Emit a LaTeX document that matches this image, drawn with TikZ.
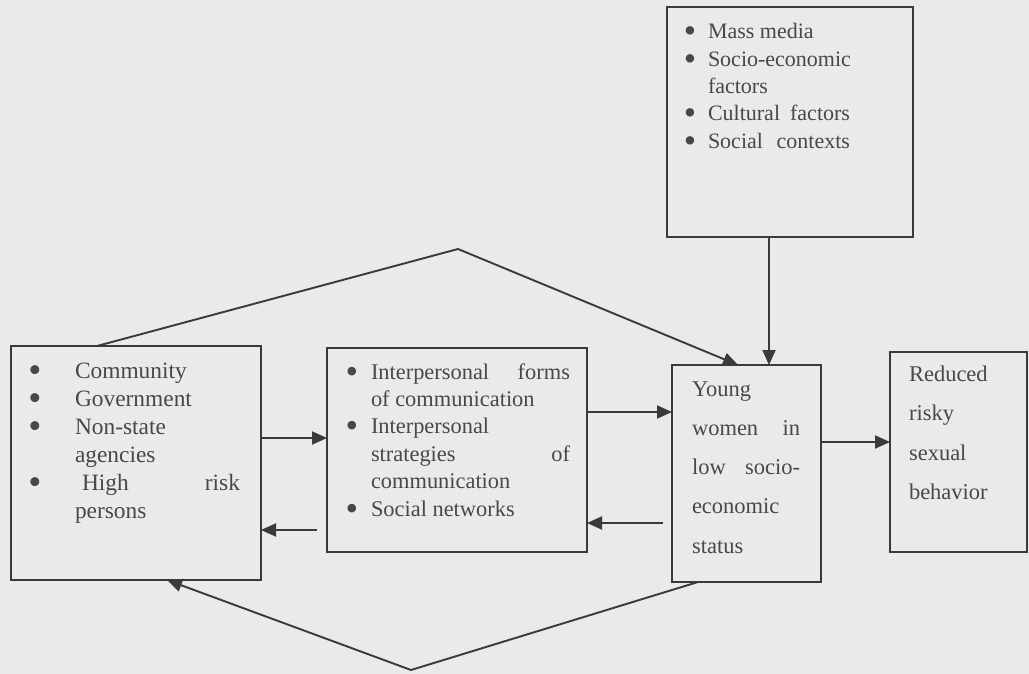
\documentclass[tikz,border=0pt]{standalone}
\usepackage{fontspec}
\setmainfont{Liberation Serif}
\usetikzlibrary{arrows.meta,calc}
\definecolor{bgc}{RGB}{234,234,232}
\definecolor{lnc}{RGB}{58,58,58}
\definecolor{txc}{RGB}{72,72,72}
\newcommand\bul[1]{\leavevmode\llap{\makebox[0pt][c]{\smash{\raisebox{-4pt}{\scalebox{1.6}{\textbullet}}}}\hspace{#1pt}}}
\newcommand\jline[2]{\leavevmode\hbox to\linewidth{#1\hfill #2}}
\begin{document}
\begin{tikzpicture}[x=1pt,y=-1pt,
  boxnode/.style={draw=lnc, line width=1.9pt, anchor=north west, inner sep=0pt, outer sep=0pt},
  txt/.style={anchor=base west, inner sep=0pt, outer sep=0pt, text=txc},
  arr/.style={draw=lnc, line width=1.9pt, -{Triangle[length=15pt,width=13pt]}},
  ln/.style={draw=lnc, line width=1.9pt, line join=miter}]
\fill[bgc] (0,0) rectangle (1029,674);
\useasboundingbox (0,0) rectangle (1029,674);

% boxes
\node[boxnode, minimum width=250pt, minimum height=234pt] (A) at (11,346) {};
\node[boxnode, minimum width=260pt, minimum height=204pt] (B) at (327,348) {};
\node[boxnode, minimum width=246pt, minimum height=230pt] (C) at (667,7) {};
\node[boxnode, minimum width=149pt, minimum height=217pt] (D) at (672,365) {};
\node[boxnode, minimum width=137pt, minimum height=200pt] (E) at (890,352) {};

% texts
\node[txt] (tA) at (75,378) {\parbox[t]{165pt}{\fontsize{23.4}{28}\selectfont\raggedright
\bul{40}Community\\
\bul{40}Government\\
\bul{40}Non-state\\
agencies\\
\bul{40}\jline{\hspace{7pt}High}{risk}\\
persons}};

\node[txt] (tB) at (371,379) {\parbox[t]{199pt}{\fontsize{22.4}{27.4}\selectfont\raggedright
\bul{19}\jline{Interpersonal}{forms}\\
of\ communication\\
\bul{19}Interpersonal\\
\jline{strategies}{of}\\
communication\\
\bul{19}Social networks}};

\node[txt] (tC) at (708,39) {\parbox[t]{142pt}{\fontsize{22}{27.3}\selectfont\raggedright
\bul{18}Mass media\\
\bul{18}\mbox{Socio-economic}\\
factors\\
\bul{18}\jline{Cultural}{factors}\\
\bul{18}\jline{Social}{contexts}}};

\node[txt] (tD) at (692,396) {\parbox[t]{108pt}{\fontsize{22.5}{39.3}\selectfont\raggedright
Young\\
\jline{women}{in}\\
\jline{low}{socio-}\\
economic\\
status}};

\node[txt] (tE) at (909,381) {\parbox[t]{110pt}{\fontsize{22.5}{39.5}\selectfont\raggedright
Reduced\\
risky\\
sexual\\
behavior}};

% helper coordinates
\coordinate (ba) at (317,530);
\coordinate (db) at (663,523);
\coordinate (topapex) at (458,249);
\coordinate (botapex) at (411,670);

% connectors
\draw[arr] (A.east |- 0,438) -- (B.west |- 0,438);
\draw[arr] (ba) -- (A.east |- ba);
\draw[arr] (B.east |- 0,412) -- (D.west |- 0,412);
\draw[arr] (db) -- (B.east |- db);
\draw[arr] (D.east |- 0,442) -- (E.west |- 0,442);
\draw[arr] (C.south -| 769,0) -- (D.north -| 769,0);
\draw[ln, arr] (A.north -| 97,0) -- (topapex) -- (D.north -| 738,0);
\draw[ln, arr] (D.south -| 698,0) -- (botapex) -- (A.south -| 167,0);
\end{tikzpicture}
\end{document}
